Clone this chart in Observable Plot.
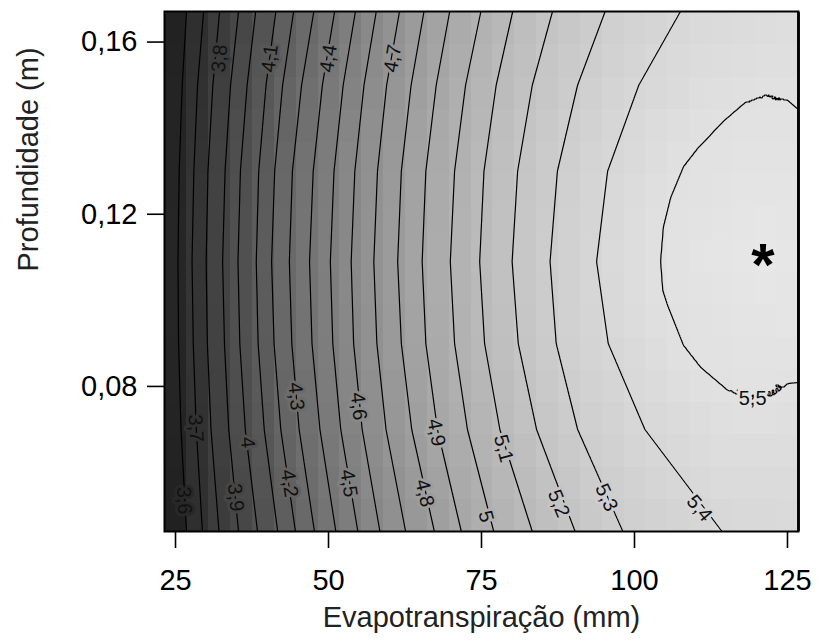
<!DOCTYPE html>
<html>
<head>
<meta charset="utf-8">
<script src="https://cdn.jsdelivr.net/npm/d3@7"></script>
<script src="https://cdn.jsdelivr.net/npm/@observablehq/plot@0.6"></script>
<style>
  html, body { margin: 0; padding: 0; background: #fff; }
</style>
</head>
<body>
<div id="chart"></div>
<script>
// ---- Data ----
// contour levels whose lines cross the whole panel (top to bottom)
const lineLevels = [3.6, 3.7, 3.8, 3.9, 4.0, 4.1, 4.2, 4.3, 4.4, 4.5, 4.6, 4.7, 4.8, 4.9, 5.0, 5.1, 5.2, 5.3, 5.4];
// depths (m) at which the crossing positions were read
const depthRows = [0.1671, 0.15, 0.13, 0.109, 0.09, 0.07, 0.0463];
// evapotranspiration (mm) where each contour crosses each depth row
const contourX = [
  [26.8, 26.1, 25.6, 25.4, 25.5, 25.9, 26.8],
  [29.6, 28.6, 28.0, 27.7, 27.9, 28.4, 29.4],
  [32.2, 31.1, 30.3, 30.0, 30.2, 30.8, 32.1],
  [35.3, 34.0, 33.1, 32.7, 33.0, 33.7, 35.3],
  [38.1, 36.7, 35.6, 35.2, 35.5, 36.4, 38.4],
  [41.4, 39.8, 38.6, 38.2, 38.5, 39.5, 41.7],
  [44.3, 42.5, 41.2, 40.7, 41.1, 42.2, 44.6],
  [47.6, 45.6, 44.1, 43.6, 44.0, 45.2, 47.7],
  [51.0, 49.0, 47.5, 46.9, 47.3, 48.6, 51.2],
  [54.4, 52.4, 50.9, 50.3, 50.7, 52.0, 54.8],
  [57.8, 55.8, 54.3, 53.7, 54.1, 55.5, 58.4],
  [61.6, 59.5, 58.0, 57.4, 57.9, 59.4, 62.6],
  [65.6, 63.5, 61.9, 61.3, 61.9, 63.6, 67.3],
  [69.8, 67.6, 65.9, 65.3, 65.9, 67.8, 71.7],
  [74.9, 72.4, 70.6, 69.9, 70.6, 72.7, 77.0],
  [80.1, 77.4, 75.4, 74.7, 75.5, 78.0, 83.3],
  [86.6, 83.3, 80.9, 80.0, 81.0, 84.0, 90.3],
  [95.2, 90.7, 87.4, 86.2, 87.2, 90.7, 98.1],
  [107.5, 100.7, 95.6, 93.8, 95.7, 101.7, 114.3]
];
// the closed 5.5 contour on the right
const loopLevel = 5.5;
const loopX = [125.0, 121.7, 118.1, 114.5, 110.3, 108.0, 105.9, 104.7, 104.25, 104.6, 105.4, 108.0, 110.8, 115.2, 119.0, 122.7, 125.2];
const loopY = [0.1465, 0.1479, 0.1460, 0.1416, 0.1353, 0.1311, 0.1239, 0.1170, 0.1091, 0.1023, 0.0988, 0.0895, 0.0844, 0.0791, 0.0767, 0.0779, 0.0807];
// values at the left and right edges of the panel, per depth row
const edgeLeftX = 23.2;
const edgeLeftZ = [3.47, 3.49, 3.505, 3.51, 3.505, 3.49, 3.46];
const edgeRightX = 126.8;
const edgeRightZ = [5.46, 5.49, 5.525, 5.54, 5.525, 5.47, 5.42];
// interior of the 5.5 contour (maximum marked by the star)
const peakX = [121, 112];
const peakY = [0.11, 0.11];
const peakZ = [5.56, 5.535];
// star marker
const starX = [121];
const starY = [0.11];
// contour labels
const labelLevel = [3.8, 4.1, 4.4, 4.7, 3.6, 3.7, 3.9, 4.0, 4.2, 4.3, 4.5, 4.6, 4.8, 4.9, 5.0, 5.1, 5.2, 5.3, 5.4, 5.5];
const labelX = [32.2, 40.4, 50.0, 60.5, 26.4, 28.3, 34.8, 36.8, 43.6, 44.7, 53.3, 54.9, 65.7, 67.6, 75.7, 78.6, 87.6, 95.4, 110.6, 119.3];
const labelY = [0.1562, 0.1562, 0.1562, 0.1562, 0.0535, 0.0703, 0.0542, 0.0670, 0.0575, 0.0777, 0.0575, 0.0754, 0.0552, 0.0693, 0.0498, 0.0656, 0.0528, 0.0542, 0.0517, 0.0772];
const labelAngle = [-85, -83, -81, -80, 87, 87, 84, 85, 82, 85, 81, 84, 77, 80, 75, 75, 68, 65, 50, 0];
// axes
const xTicks = [25, 50, 75, 100, 125];
const yTicks = [0.08, 0.12, 0.16];
const xTitle = "Evapotranspiração (mm)";
const yTitle = "Profundidade (m)";

// ---- Build tables for the library ----
const samples = [];
lineLevels.forEach((z, i) => depthRows.forEach((y, j) => samples.push({x: contourX[i][j], y, z})));
loopX.forEach((x, i) => samples.push({x, y: loopY[i], z: loopLevel}));
depthRows.forEach((y, j) => {
  samples.push({x: edgeLeftX, y, z: edgeLeftZ[j]});
  samples.push({x: edgeRightX, y, z: edgeRightZ[j]});
});
peakX.forEach((x, i) => samples.push({x, y: peakY[i], z: peakZ[i]}));

const thresholds = [...lineLevels, loopLevel];
const labels = labelLevel.map((v, i) => ({
  x: labelX[i], y: labelY[i], v,
  t: String(v).replace(".", ","),
  a: labelAngle[i]
}));
const stars = starX.map((x, i) => ({x, y: starY[i]}));

const font = "'Liberation Sans', Arial, Helvetica, sans-serif";

const chart = Plot.plot({
  width: 819,
  height: 641,
  marginLeft: 164,
  marginRight: 21,
  marginTop: 11,
  marginBottom: 110,
  style: {fontFamily: font, background: "white", color: "black"},
  x: {domain: [23.2, 126.8]},
  y: {domain: [0.0463, 0.1671]},
  color: {type: "linear", domain: [3.45, 5.57], range: ["#191919", "#e8e8e8"], interpolate: "rgb", clamp: true},
  marks: [
    Plot.raster(samples, {
      x: "x", y: "y", fill: "z",
      interpolate: "barycentric",
      width: 29, height: 16,
      imageRendering: "pixelated"
    }),
    Plot.contour(samples, {
      x: "x", y: "y", value: "z",
      interpolate: "barycentric",
      pixelSize: 1,
      thresholds,
      fill: "none",
      stroke: "black",
      strokeWidth: 1.2
    }),
    Plot.text(labels, {
      x: "x", y: "y", text: "t", rotate: "a",
      fill: "#111",
      stroke: "v",
      strokeWidth: 6,
      paintOrder: "stroke",
      fontSize: 20,
      textAnchor: "middle",
      lineAnchor: "middle"
    }),
    Plot.text(stars, {
      x: "x", y: "y", text: () => "*",
      fontSize: 60, fontWeight: "bold", fill: "black",
      textAnchor: "middle", lineAnchor: "middle", dy: 9
    }),
    Plot.frame({stroke: "black", strokeWidth: 2}),
    Plot.axisX({
      ticks: xTicks, tickSize: 17, tickPadding: 21,
      tickFormat: d => String(d),
      fontSize: 29, strokeWidth: 1.6, label: null
    }),
    Plot.axisY({
      ticks: yTicks, tickSize: 17, tickPadding: 10,
      tickFormat: d => d.toFixed(2).replace(".", ","),
      fontSize: 29, strokeWidth: 1.6, label: null
    }),
    Plot.text([xTitle], {
      frameAnchor: "bottom", text: d => d, dy: 86,
      fontSize: 29, fill: "#222", lineAnchor: "middle"
    }),
    Plot.text([yTitle], {
      frameAnchor: "left", text: d => d, dx: -136, rotate: -90,
      fontSize: 29, fill: "#222", lineAnchor: "middle"
    })
  ]
});
document.getElementById("chart").appendChild(chart);
</script>
</body>
</html>
